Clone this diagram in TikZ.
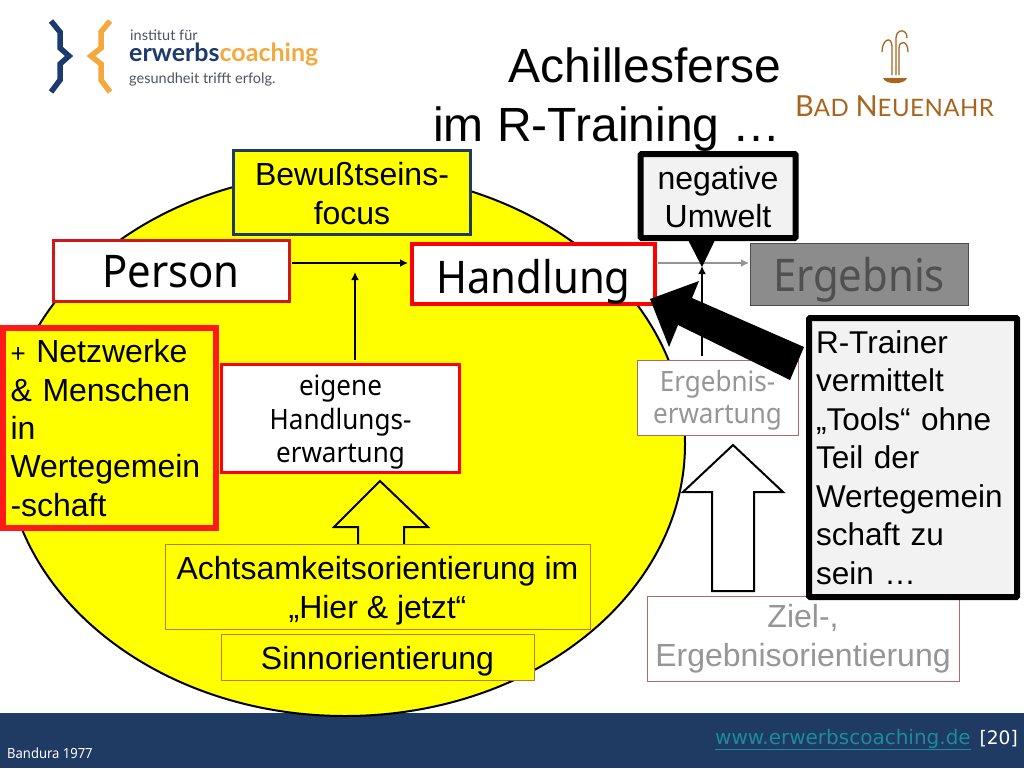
\documentclass[tikz,border=0pt]{standalone}
\usepackage{fontspec}
\setmainfont{Liberation Sans}
\newfontfamily\tah[FakeStretch=0.93]{Noto Sans}
\newfontfamily\logof{Lato}
\newfontfamily\logos[LetterSpace=2]{Lato}
\newfontfamily\dvs{DejaVu Sans}
\newcommand{\fsz}[2]{\fontsize{#1}{#2}\selectfont}
\definecolor{navy}{HTML}{1F3A63}
\definecolor{logoblue}{HTML}{1C3A6E}
\definecolor{logoor}{HTML}{F5A83C}
\definecolor{logogr}{HTML}{4A5560}
\definecolor{brn}{HTML}{A9651E}
\definecolor{boxor}{HTML}{C07828}
\definecolor{lightg}{HTML}{F2F2F2}
\definecolor{graytx}{HTML}{969696}
\definecolor{ziel}{HTML}{B06A6A}
\definecolor{yel}{HTML}{FFFF00}
\definecolor{rd}{HTML}{FF0000}
\definecolor{drd}{HTML}{D01818}
\definecolor{nrd}{HTML}{FF1A1A}
\definecolor{grayfill}{HTML}{8C8C8C}
\definecolor{graydk}{HTML}{505050}
\usetikzlibrary{arrows.meta}
\tikzset{
 box/.style={draw,inner sep=0pt,outer sep=0pt,align=center,anchor=north west},
 redbox/.style={box,draw=rd,fill=white,line width=3pt},
 yelbox/.style={box,draw=boxor,fill=yel,line width=.8pt},
 blkbox/.style={box,draw=black,fill=lightg,line width=6pt,rounded corners=1pt},
 lab/.style={inner sep=0pt,anchor=base west},
 inbox/.style={inner sep=0pt,align=center},
 outl/.style={draw=black,line width=2pt,fill=#1,line join=miter},
 thinarr/.style={-{Latex[length=8pt,width=8pt]},line width=2.2pt},
}
\begin{document}
\begin{tikzpicture}[x=1pt,y=-1pt]
\useasboundingbox (0,0) rectangle (1024,768);
\fill[white] (0,0) rectangle (1024,768);
% footer
\fill[navy] (0,713) rectangle (1024,768);
% ellipse
\draw[fill=yel,line width=2pt] (345,444) ellipse [x radius=340,y radius=272];
% logo
\draw[logoblue,line width=5.5pt,line join=miter] (51,21)--(60,32)--(60,48)--(69,56)--(60,64)--(60,80)--(51,92);
\draw[logoor,line width=5.5pt,line join=miter] (110,21)--(101,32)--(101,48)--(91,56)--(101,64)--(101,80)--(110,92);
\node[lab,text=logogr,font=\logof\fsz{14.5}{18}] (l1) at (130,41) {institut für};
\node[lab,font=\logof\bfseries\fsz{25}{28}] (l2) at (129,62) {\textcolor{logoblue}{erwerbs}\textcolor{logoor}{coaching}};
\node[lab,text=logogr,font=\logof\fsz{14.5}{18}] (l3) at (129,83) {gesundheit trifft erfolg.};
% fountain
\begin{scope}[brn,line width=1.3pt]
\draw (882,52) .. controls (882,40) and (891,35) .. (892,46) -- (892,75);
\draw (896,75) -- (896,38) .. controls (896,29) and (907,28) .. (907,38);
\draw (899,75) -- (899,48) .. controls (899,40) and (908,40) .. (908,52);
\fill (883,78) -- (907,78) .. controls (905,85) and (885,85) .. (883,78);
\end{scope}
\node[lab,text=brn,font=\logos\fsz{24}{28}] (bn) at (795,116) {{\fsz{29}{28}B}AD {\fsz{29}{28}N}EUENAHR};
% title
\node[inner sep=0pt,align=right,anchor=base east,font=\fsz{48}{59}] (title) at (781,141) {Achillesferse\\im R-Training …};
% boxes
\node[box,draw=navy,fill=yel,line width=2.5pt,minimum width=237pt,minimum height=84pt] (bew) at (233.5,150.5) {};
\node[inbox,font=\fsz{32}{38.5}] (bewt) at ([yshift=-1pt]bew.center) {Bewußtseins-\\focus};
\node[redbox,draw=drd,minimum width=236pt,minimum height=61pt,font=\tah\fsz{45}{46},text height=33pt,text depth=0pt] (person) at (53,240) {Person};
\node[redbox,line width=4pt,minimum width=243pt,minimum height=60pt,font=\tah\fsz{45}{46},text height=38pt,text depth=0pt] (handlung) at (412,244) {Handlung};
\node[box,draw=black!70,fill=grayfill,line width=1pt,minimum width=218pt,minimum height=62pt,text=graydk,font=\tah\fsz{45}{46},text height=34pt,text depth=0pt] (ergebnis) at (750,243) {Ergebnis};
% connectors
\coordinate (pa) at (292,263);
\coordinate (ha) at (408,263);
\draw[thinarr] (pa) -- (ha);
\coordinate (ea) at (355,360);
\coordinate (eb) at (355,272);
\draw[thinarr] (ea) -- (eb);
\coordinate (ga) at (658,263);
\coordinate (gb) at (749,263);
\draw[thinarr,draw=black!42] (ga) -- (gb);
\coordinate (va) at (702,356);
\coordinate (vb) at (702,266);
\draw[thinarr] (va) -- (vb);
% negative Umwelt
\fill[black] (687,238) -- (716,238) -- (702,267) -- cycle;
\node[blkbox,minimum width=155pt,minimum height=84pt] (neg) at (640.5,154) {};
\node[inbox,font=\fsz{32}{38.5}] (negt) at ([yshift=-1pt]neg.center) {negative\\Umwelt};
% hollow arrows
\draw[outl=yel] (358,546)--(358,527)--(334,527)--(380,481)--(428,527)--(404,527)--(404,546);
\draw[outl=white] (712,591)--(712,492)--(683,492)--(733,445)--(783,492)--(754,492)--(754,591)--cycle;
% remaining boxes
\node[box,draw=ziel,fill=white,line width=.8pt,minimum width=161pt,minimum height=75pt] (ee) at (637,360) {};
\node[inbox,text=graytx,font=\tah\fsz{28}{32}] (eet) at ([yshift=-3pt]ee.center) {Ergebnis-\\erwartung};
\node[redbox,minimum width=238pt,minimum height=108pt] (eig) at (221.5,364.5) {};
\node[inbox,font=\tah\fsz{28}{33.5}] (eigt) at ([yshift=-4pt]eig.center) {eigene\\Handlungs-\\erwartung};
\node[box,draw=nrd,fill=yel,line width=6pt,minimum width=213pt,minimum height=200pt,align=left,text width=202pt,inner sep=0pt,font=\fsz{32}{38.3}] (netz) at (3,328) {\hspace*{2pt}{\fsz{26}{38.3}+} Netzwerke\\\hspace*{2pt}\& Menschen\\\hspace*{2pt}in\\\hspace*{2pt}Wertegemein\\\hspace*{2pt}-schaft};
\node[yelbox,minimum width=425pt,minimum height=85pt] (acht) at (165,544) {};
\node[inbox,font=\fsz{32}{38.5}] (achtt) at ([yshift=-4pt]acht.center) {Achtsamkeitsorientierung im\\„Hier \& jetzt“};
\node[yelbox,minimum width=313pt,minimum height=46pt] (sinn) at (221,634) {};
\node[inbox,font=\fsz{32}{38.5}] (sinnt) at ([yshift=-4pt]sinn.center) {Sinnorientierung};
\node[box,draw=ziel,fill=white,line width=.8pt,minimum width=312pt,minimum height=85pt,text=graytx,font=\fsz{32}{39}] (zo) at (647,596) {Ziel-,\\Ergebnisorientierung};
\node[blkbox,minimum width=208pt,minimum height=279pt,align=left,text width=208pt,font=\fsz{31.5}{38.5}] (rt) at (809,318) {\hspace*{7pt}R-Trainer\\\hspace*{7pt}vermittelt\\\hspace*{7pt}„Tools“ ohne\\\hspace*{7pt}Teil der\\\hspace*{7pt}Wertegemein\\\hspace*{7pt}schaft zu\\\hspace*{7pt}sein …};
% big arrow
\fill[black] (804,347)--(692,298)--(699,281)--(650,299)--(669,347)--(678,325)--(790,380)--cycle;
% footer text
\node[inner sep=0pt,anchor=base east,text=white,font=\dvs\fsz{18.6}{22}] (url) at (1018,744) {{\fsz{20}{22}\textcolor[HTML]{1A8C9C}{\underline{www.erwerbscoaching.de}}}\hspace{3pt} [20]};
\node[lab,text=white,font=\tah\fsz{14}{15}] (band) at (7,758) {Bandura 1977};
\end{tikzpicture}
\end{document}
